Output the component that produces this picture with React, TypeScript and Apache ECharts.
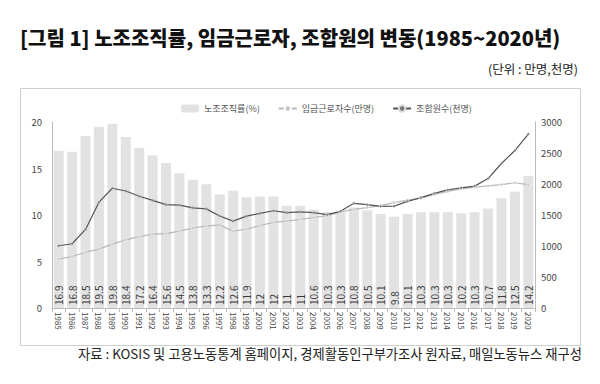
import React, { useEffect, useRef } from "react";
import * as echarts from "echarts";

const years = [
  "1985", "1986", "1987", "1988", "1989", "1990", "1991", "1992", "1993", "1994",
  "1995", "1996", "1997", "1998", "1999", "2000", "2001", "2002", "2003", "2004",
  "2005", "2006", "2007", "2008", "2009", "2010", "2011", "2012", "2013", "2014",
  "2015", "2016", "2017", "2018", "2019", "2020",
];

const unionRate = [
  16.9, 16.8, 18.5, 19.5, 19.8, 18.4, 17.2, 16.4, 15.6, 14.5,
  13.8, 13.3, 12.2, 12.6, 11.9, 12, 12, 11, 11, 10.6,
  10.3, 10.3, 10.8, 10.5, 10.1, 9.8, 10.1, 10.3, 10.3, 10.3,
  10.2, 10.3, 10.7, 11.8, 12.5, 14.2,
];

const wageWorkers = [
  790, 830, 900, 950, 1030, 1100, 1150, 1190, 1200, 1240,
  1290, 1320, 1340, 1240, 1270, 1330, 1380, 1400, 1430, 1460,
  1490, 1550, 1590, 1620, 1650, 1700, 1740, 1770, 1830, 1880,
  1920, 1950, 1970, 1990, 2020, 1990,
];

const unionMembers = [
  1004, 1036, 1267, 1707, 1932, 1887, 1803, 1735, 1667, 1659,
  1615, 1599, 1484, 1402, 1481, 1527, 1569, 1538, 1550, 1537,
  1506, 1559, 1688, 1666, 1640, 1643, 1720, 1781, 1848, 1905,
  1939, 1966, 2088, 2331, 2540, 2805,
];

const leftTicks = { min: 0, max: 20, interval: 5 };
const rightTicks = { min: 0, max: 3000, interval: 500 };

const FONT = "'Noto Sans CJK KR', 'Noto Sans', sans-serif";

export default function App() {
  const ref = useRef<HTMLDivElement>(null);

  useEffect(() => {
    document.body.style.margin = "0";
    if (!ref.current) return;
    const chart = echarts.init(ref.current, null, { renderer: "svg" });
    chart.setOption({
      animation: false,
      backgroundColor: "#ffffff",
      textStyle: { fontFamily: FONT },
      graphic: [
        {
          type: "rect",
          shape: { x: 20.5, y: 88.5, width: 560, height: 257 },
          style: { fill: "none", stroke: "#cfcfcf", lineWidth: 1 },
          silent: true,
        },
        {
          type: "text",
          left: 20,
          top: 27,
          style: {
            text: "[그림 1] 노조조직률, 임금근로자, 조합원의 변동(1985~2020년)",
            fontFamily: FONT,
            fontSize: 20,
            fontWeight: 900,
            fill: "#111",
          },
        },
        {
          type: "text",
          right: 22,
          top: 62,
          style: {
            text: "(단위 : 만명,천명)",
            fontFamily: FONT,
            fontSize: 12.5,
            fill: "#222",
          },
        },
        {
          type: "text",
          right: 18,
          top: 347,
          style: {
            text: "자료 : KOSIS 및 고용노동통계 홈페이지, 경제활동인구부가조사 원자료, 매일노동뉴스 재구성",
            fontFamily: FONT,
            fontSize: 13.3,
            fill: "#222",
          },
        },
      ],
      legend: {
        top: 99,
        left: 176,
        itemWidth: 18,
        itemHeight: 8,
        itemGap: 18,
        textStyle: { fontSize: 9, color: "#555", fontFamily: FONT },
        data: ["노조조직률(%)", "임금근로자수(만명)", "조합원수(천명)"],
      },
      grid: { left: 52, right: 65, top: 122, bottom: 76 },
      xAxis: {
        type: "category",
        data: years,
        axisLine: { lineStyle: { color: "#bbb" } },
        axisTick: { show: true, lineStyle: { color: "#bbb" }, length: 4 },
        axisLabel: {
          interval: 0,
          rotate: -90,
          fontSize: 8,
          color: "#444",
          margin: 4,
          fontFamily: FONT,
        },
      },
      yAxis: [
        {
          type: "value",
          ...leftTicks,
          position: "left",
          splitLine: { show: false },
          axisLine: { show: true, lineStyle: { color: "#bbb" } },
          axisTick: { show: false },
          axisLabel: { fontSize: 9.5, color: "#444", margin: 10, fontFamily: FONT },
        },
        {
          type: "value",
          ...rightTicks,
          position: "right",
          splitLine: { show: false },
          axisLine: { show: true, lineStyle: { color: "#bbb" } },
          axisTick: { show: false },
          axisLabel: {
            fontSize: 9.5,
            color: "#444",
            margin: 6,
            fontFamily: FONT,
            formatter: (v: number) => String(v),
          },
        },
      ],
      series: [
        {
          name: "노조조직률(%)",
          type: "bar",
          yAxisIndex: 0,
          data: unionRate,
          barWidth: 10,
          itemStyle: { color: "#e2e2e2" },
          label: {
            show: true,
            position: "insideBottom",
            rotate: 90,
            align: "left",
            verticalAlign: "middle",
            distance: 3,
            fontSize: 10,
            color: "#3a3a3a",
            fontFamily: FONT,
          },
        },
        {
          name: "임금근로자수(만명)",
          type: "line",
          yAxisIndex: 1,
          data: wageWorkers,
          symbol: "circle",
          symbolSize: 3,
          lineStyle: { color: "#b8b8b8", width: 1.2 },
          itemStyle: { color: "#c4c4c4", borderColor: "#ffffff", borderWidth: 0.6 },
        },
        {
          name: "조합원수(천명)",
          type: "line",
          yAxisIndex: 1,
          data: unionMembers,
          symbol: "circle",
          symbolSize: 2.5,
          lineStyle: { color: "#555555", width: 1.2 },
          itemStyle: { color: "#777777", borderColor: "#dddddd", borderWidth: 0.5 },
        },
      ],
    });
    return () => chart.dispose();
  }, []);

  return <div ref={ref} style={{ width: 600, height: 384 }} />;
}
